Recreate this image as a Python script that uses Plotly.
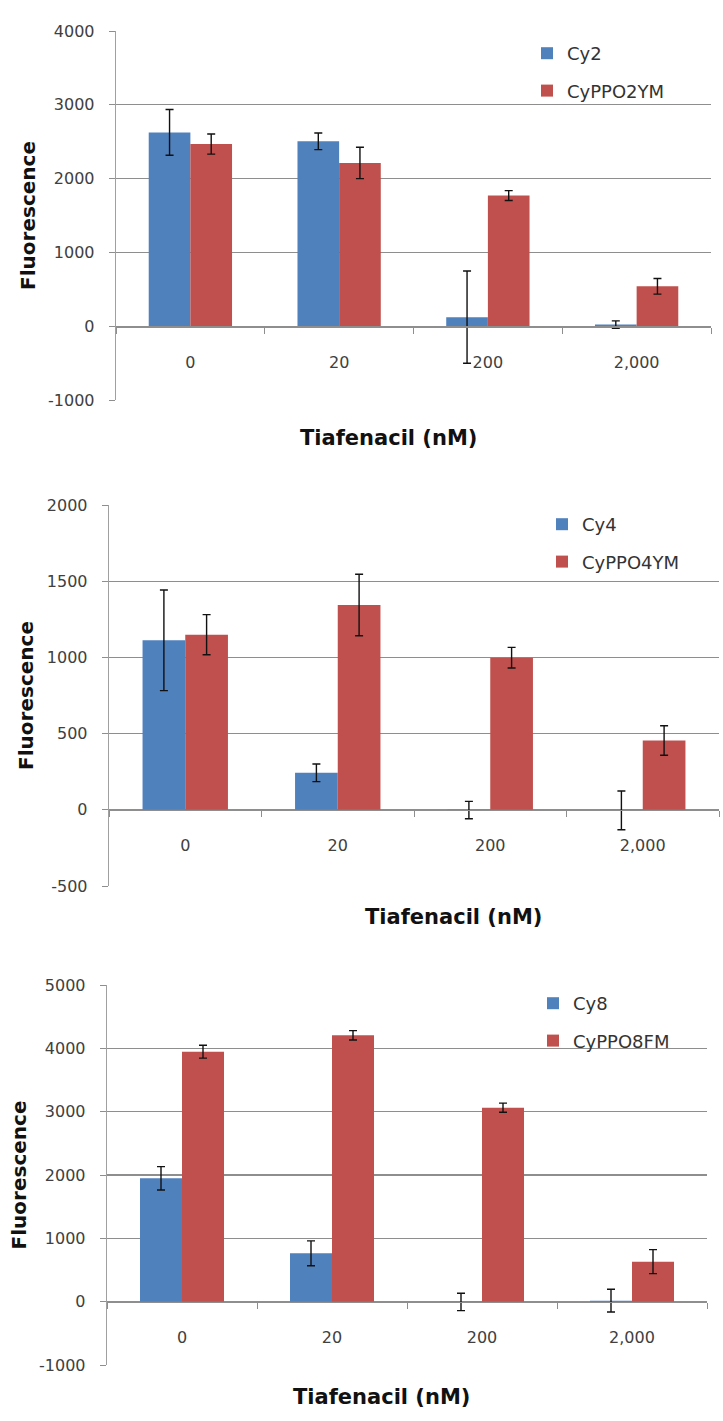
import plotly.graph_objects as go

categories = ["0", "20", "200", "2,000"]

# Panel 1
p1_names = ["Cy2", "CyPPO2YM"]
p1_cy = [2626, 2505, 122, 22]
p1_cy_err = [310, 113, 625, 50]
p1_ppo = [2468, 2212, 1770, 540]
p1_ppo_err = [137, 213, 67, 106]
p1_yticks = [-1000, 0, 1000, 2000, 3000, 4000]
p1_yticklabels = ["-1000", "0", "1000", "2000", "3000", "4000"]

# Panel 2
p2_names = ["Cy4", "CyPPO4YM"]
p2_cy = [1112, 243, -2, -4]
p2_cy_err = [330, 58, 57, 127]
p2_ppo = [1149, 1344, 998, 455]
p2_ppo_err = [132, 202, 68, 97]
p2_yticks = [-500, 0, 500, 1000, 1500, 2000]
p2_yticklabels = ["-500", "0", "500", "1000", "1500", "2000"]

# Panel 3
p3_names = ["Cy8", "CyPPO8FM"]
p3_cy = [1947, 763, -5, 16]
p3_cy_err = [185, 197, 137, 180]
p3_ppo = [3947, 4205, 3063, 632]
p3_ppo_err = [102, 74, 72, 190]
p3_yticks = [-1000, 0, 1000, 2000, 3000, 4000, 5000]
p3_yticklabels = ["-1000", "0", "1000", "2000", "3000", "4000", "5000"]

x_title = "Tiafenacil (nM)"
y_title = "Fluorescence"

W, H = 723, 1421
BLUE = "#4F81BD"
RED = "#C0504D"
GRID = "#8E8E8E"
TXT = "#404040"
FONT = "DejaVu Sans"

# pixel layout (top, bottom, left, right)
boxes = [(31, 400, 116, 711), (505, 886, 109, 719), (985, 1365, 107, 707)]
legend_pos = [(527, 35), (542, 506), (533, 985)]
title_pos = [(388, 438), (453, 917), (381, 1397)]

fig = go.Figure()
panels = [
    (p1_names, p1_cy, p1_cy_err, p1_ppo, p1_ppo_err, p1_yticks, p1_yticklabels),
    (p2_names, p2_cy, p2_cy_err, p2_ppo, p2_ppo_err, p2_yticks, p2_yticklabels),
    (p3_names, p3_cy, p3_cy_err, p3_ppo, p3_ppo_err, p3_yticks, p3_yticklabels),
]

for i, (names, cy, cye, ppo, ppoe, yt, ytl) in enumerate(panels):
    k = "" if i == 0 else str(i + 1)
    leg = "legend" if i == 0 else f"legend{i + 1}"
    for j, (nm, vals, errs, col) in enumerate([(names[0], cy, cye, BLUE), (names[1], ppo, ppoe, RED)]):
        fig.add_trace(go.Bar(
            x=categories, y=vals, name=nm, marker=dict(color=col, line=dict(width=0)),
            error_y=dict(type="data", array=errs, visible=True, color="#111111",
                         thickness=1.4, width=4),
            xaxis="x" + k, yaxis="y" + k, legend=leg, legendgroup=f"g{i}{j}",
        ))
    top, bot, left, right = boxes[i]
    ydom = [1 - bot / H, 1 - top / H]
    xdom = [left / W, right / W]
    yr = [yt[0], yt[-1]]
    zero_paper = ydom[0] + (0 - yr[0]) / (yr[1] - yr[0]) * (ydom[1] - ydom[0])
    fig.layout["xaxis" + k] = dict(
        domain=xdom, anchor="free", position=zero_paper, type="category",
        showline=True, linecolor=GRID, linewidth=1.3, showgrid=False,
        ticks="outside", tickson="boundaries", ticklen=6, tickcolor=GRID,
        tickfont=dict(family=FONT, size=16, color=TXT), ticklabelstandoff=21,
        automargin=False, fixedrange=True,
    )
    fig.layout["yaxis" + k] = dict(
        domain=ydom, anchor="x" + k, range=yr, tickmode="array",
        tickvals=yt, ticktext=ytl,
        showgrid=True, gridcolor=GRID, gridwidth=1.3, zeroline=False,
        showline=True, linecolor="#A0A0A0", linewidth=1.3,
        ticks="outside", ticklen=6, tickcolor=GRID,
        tickfont=dict(family=FONT, size=16, color=TXT), ticklabelstandoff=11,
        title=dict(text=y_title, font=dict(family=FONT, size=20, color="#111111", weight="bold"),
                   standoff=7),
        automargin=False, fixedrange=True,
    )
    lx, ly = legend_pos[i]
    fig.layout[leg] = dict(
        x=lx / W, y=1 - ly / H, xanchor="left", yanchor="top",
        bgcolor="rgba(0,0,0,0)", tracegroupgap=11, itemwidth=30,
        font=dict(family=FONT, size=18, color="#333333"),
        orientation="v",
    )
    tx, ty = title_pos[i]
    fig.add_annotation(
        x=tx / W, y=1 - ty / H, xref="paper", yref="paper", showarrow=False,
        text="<b>" + x_title + "</b>", font=dict(family=FONT, size=21, color="#111111"),
        xanchor="center", yanchor="middle",
    )

fig.update_layout(
    width=W, height=H, margin=dict(l=0, r=0, t=0, b=0, autoexpand=False),
    paper_bgcolor="white", plot_bgcolor="white",
    barmode="group", bargap=0.44, bargroupgap=0,
    showlegend=True,
)

fig.write_html(
    "out.html",
    config={"displayModeBar": False, "staticPlot": True},
    post_script="document.body.style.margin='0';document.body.style.overflow='hidden';",
)
